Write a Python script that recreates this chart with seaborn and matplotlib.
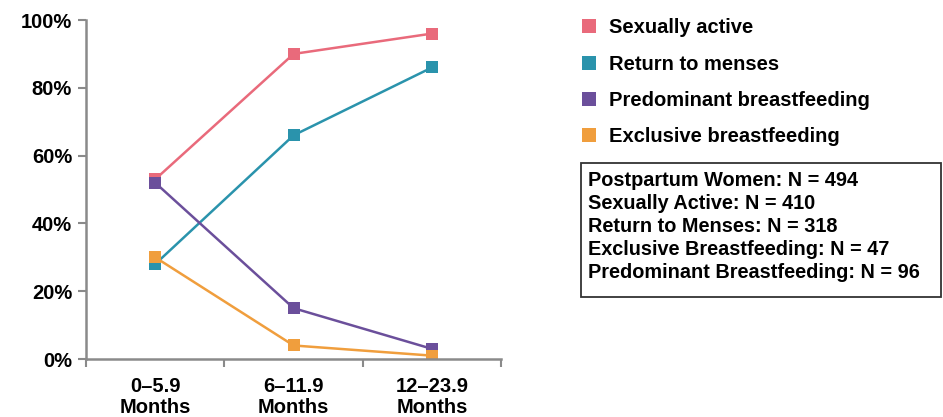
import matplotlib
matplotlib.use("Agg")
import matplotlib.pyplot as plt
from matplotlib.lines import Line2D
from matplotlib.patches import Rectangle
import seaborn as sns
import pandas as pd

categories = ["0\u20135.9\nMonths", "6\u201311.9\nMonths", "12\u201323.9\nMonths"]
sexually_active = [53, 90, 96]
return_to_menses = [28, 66, 86]
predominant_bf = [52, 15, 3]
exclusive_bf = [30, 4, 1]

series_names = ["Sexually active", "Return to menses",
                "Predominant breastfeeding", "Exclusive breastfeeding"]
series_values = [sexually_active, return_to_menses, predominant_bf, exclusive_bf]
colors = ["#E96A7B", "#2A93AC", "#6B4F9B", "#F09E3D"]

y_ticks = [0, 20, 40, 60, 80, 100]
y_tick_labels = ["0%", "20%", "40%", "60%", "80%", "100%"]

note_lines = [
    "Postpartum Women: N = 494",
    "Sexually Active: N = 410",
    "Return to Menses: N = 318",
    "Exclusive Breastfeeding: N = 47",
    "Predominant Breastfeeding: N = 96",
]

rows = []
for name, vals in zip(series_names, series_values):
    for i, v in enumerate(vals):
        rows.append({"period": i, "series": name, "value": v})
df = pd.DataFrame(rows)

sns.set_theme(style="white")
plt.rcParams["font.family"] = ["Liberation Sans", "DejaVu Sans"]
plt.rcParams["font.weight"] = "bold"
plt.rcParams["text.color"] = "black"
plt.rcParams["xtick.color"] = "black"
plt.rcParams["ytick.color"] = "black"

fig = plt.figure(figsize=(9.43, 4.17), dpi=100)
ax = fig.add_axes([0.0912, 0.139, 0.4403, 0.813])

sns.lineplot(data=df, x="period", y="value", hue="series",
             hue_order=series_names, palette=colors, marker="s",
             markersize=8, markeredgewidth=0, linewidth=1.8,
             legend=False, ax=ax)

ax.set_xlim(-0.5, 2.5)
ax.set_ylim(0, 100)
ax.set_xlabel("")
ax.set_ylabel("")
ax.set_yticks(y_ticks)
ax.set_yticklabels(y_tick_labels, fontsize=14.5, fontweight="bold", color="black")
ax.set_xticks([0, 1, 2])
ax.set_xticklabels(categories, fontsize=14.5, fontweight="bold", color="black",
                   linespacing=1.1)
ax.set_xticks([-0.5, 0.5, 1.5, 2.5], minor=True)
ax.tick_params(axis="x", which="minor", length=6, width=1.5, color="#8a8a8a",
               direction="out", bottom=True)
ax.tick_params(axis="x", which="major", length=0, pad=13, bottom=False)
ax.tick_params(axis="y", length=6, width=1.5, color="#8a8a8a", direction="out",
               pad=4, left=True)

for side in ["top", "right"]:
    ax.spines[side].set_visible(False)
for side in ["left", "bottom"]:
    ax.spines[side].set_color("#8a8a8a")
    ax.spines[side].set_linewidth(1.8)

handles = [Line2D([0], [0], marker="s", linestyle="none", markersize=9.5,
                  markerfacecolor=c, markeredgewidth=0) for c in colors]
fig.legend(handles, series_names, loc="upper left",
           bbox_to_anchor=(0.605, 0.975), frameon=False,
           prop={"size": 14.5, "weight": "bold"}, labelspacing=0.85,
           handletextpad=0.5, handlelength=1.0, borderaxespad=0)

# bordered note box with the sample sizes
box_x0, box_y0 = 581 / 943, 1 - 297 / 417
box_w, box_h = (941 - 581) / 943, (297 - 163) / 417
fig.patches.append(Rectangle((box_x0, box_y0), box_w, box_h,
                             transform=fig.transFigure, facecolor="white",
                             edgecolor="#333333", linewidth=1.3))
fig.text(box_x0 + 7 / 943, 1 - 171 / 417, "\n".join(note_lines),
         fontsize=14.3, fontweight="bold", va="top", ha="left",
         linespacing=1.27)

fig.savefig("out.png", dpi=100)
